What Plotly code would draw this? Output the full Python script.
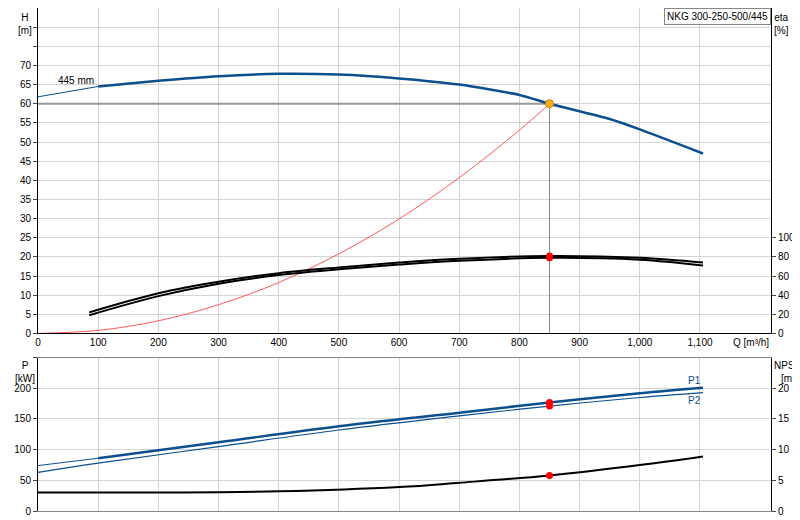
import plotly.graph_objects as go

q_h = [0, 100, 200, 300, 400, 500, 600, 700, 800, 850, 950, 1000, 1105]
h = [61.8, 64.5, 66.0, 67.2, 67.8, 67.6, 66.6, 65.0, 62.3, 60.0, 56.0, 53.3, 47.0]
q_eta = [85, 200, 300, 400, 500, 600, 700, 850, 1000, 1105]
eta1 = [22, 42, 54, 63, 69, 74, 78, 81, 79, 74]
eta2 = [19, 39, 52, 61, 67, 72, 76, 79, 77, 71]
q_sys = [0, 100, 200, 300, 400, 500, 600, 700, 800, 850]
h_sys = [0, 0.8, 3.3, 7.5, 13.3, 20.8, 29.9, 40.7, 53.1, 60.0]
q_p = [0, 100, 300, 500, 700, 850, 1000, 1105]
p1 = [74, 86, 112, 138, 160, 177, 192, 201]
p2 = [63, 78, 105, 132, 155, 171, 185, 193]
q_n = [0, 200, 400, 600, 700, 850, 1000, 1105]
npsh = [3.0, 3.0, 3.2, 3.9, 4.6, 5.8, 7.5, 8.9]
q_ticks = list(range(0, 1200, 100))
q_op = 850
h_op = 60

blue = "#0b4f8f"
fig = go.Figure()
fig.add_trace(go.Scatter(x=q_sys, y=h_sys, mode="lines", line=dict(color="#ff3030", width=0.8, shape="spline"), xaxis="x", yaxis="y"))
fig.add_trace(go.Scatter(x=[0, q_op], y=[h_op, h_op], mode="lines", line=dict(color="#999", width=2), xaxis="x", yaxis="y"))
fig.add_trace(go.Scatter(x=[q_op, q_op], y=[0, h_op], mode="lines", line=dict(color="#888", width=1), xaxis="x", yaxis="y"))
fig.add_trace(go.Scatter(x=q_h[:2], y=h[:2], mode="lines", line=dict(color=blue, width=1), xaxis="x", yaxis="y"))
fig.add_trace(go.Scatter(x=q_h[1:], y=h[1:], mode="lines", line=dict(color=blue, width=2.5, shape="spline", smoothing=0.6), xaxis="x", yaxis="y"))
for e in (eta1, eta2):
    fig.add_trace(go.Scatter(x=q_eta, y=e, mode="lines", line=dict(color="black", width=2, shape="spline"), xaxis="x", yaxis="y2"))
fig.add_trace(go.Scatter(x=[q_op, q_op], y=[eta1[7], eta2[7]], mode="markers", marker=dict(color="red", size=7), xaxis="x", yaxis="y2"))
fig.add_trace(go.Scatter(x=[q_op], y=[h_op], mode="markers", marker=dict(color="#ffb020", size=8, line=dict(color="#d08000", width=1)), xaxis="x", yaxis="y"))
fig.add_trace(go.Scatter(x=q_p[:2], y=p1[:2], mode="lines", line=dict(color=blue, width=1), xaxis="x2", yaxis="y3"))
fig.add_trace(go.Scatter(x=q_p[1:], y=p1[1:], mode="lines", line=dict(color=blue, width=2.5, shape="spline"), xaxis="x2", yaxis="y3"))
fig.add_trace(go.Scatter(x=q_p, y=p2, mode="lines", line=dict(color=blue, width=1.2, shape="spline"), xaxis="x2", yaxis="y3"))
fig.add_trace(go.Scatter(x=[q_op, q_op], y=[p1[5], p2[5]], mode="markers", marker=dict(color="red", size=7), xaxis="x2", yaxis="y3"))
fig.add_trace(go.Scatter(x=q_n, y=npsh, mode="lines", line=dict(color="black", width=2, shape="spline"), xaxis="x2", yaxis="y4"))
fig.add_trace(go.Scatter(x=[q_op], y=[npsh[5]], mode="markers", marker=dict(color="red", size=7), xaxis="x2", yaxis="y4"))

grid = "#d4d4d4"
hv = list(range(0, 85, 5))
ht = [str(v) if v <= 70 else "" for v in hv]
fig.update_layout(
    width=800, height=520, showlegend=False, plot_bgcolor="white", paper_bgcolor="white",
    margin=dict(l=30, r=37, t=0, b=17),
    font=dict(family="Liberation Sans, Arial", size=10, color="black"),
    xaxis=dict(range=[0, 1218], tickvals=q_ticks, tickformat=",d", showgrid=True, gridcolor=grid,
               anchor="y", showline=True, linecolor="black", ticks="", zeroline=False, automargin=False),
    xaxis2=dict(range=[0, 1218], tickvals=q_ticks, showticklabels=False, showgrid=True, gridcolor=grid,
                anchor="y3", zeroline=False, showline=True, linecolor="#888", automargin=False, mirror=True),
    yaxis=dict(domain=[0.353, 1], range=[0, 85], tickvals=hv, ticktext=ht, showgrid=True, gridcolor=grid,
               showline=True, linecolor="black", ticks="outside", ticklen=4, zeroline=False, automargin=False),
    yaxis2=dict(overlaying="y", side="right", range=[0, 85 * 4], tickvals=[0, 20, 40, 60, 80, 100],
                showgrid=False, showline=True, linecolor="black", ticks="outside", ticklen=4, zeroline=False, automargin=False),
    yaxis3=dict(domain=[0, 0.305], range=[0, 250], tickvals=[0, 50, 100, 150, 200, 250], ticktext=["0", "50", "100", "150", "200", ""],
                showgrid=True, gridcolor=grid, anchor="x2",
                showline=True, linecolor="black", ticks="outside", ticklen=4, zeroline=False, automargin=False),
    yaxis4=dict(overlaying="y3", side="right", anchor="x2", range=[0, 25], tickvals=[0, 5, 10, 15, 20],
                showgrid=False, showline=True, linecolor="black", ticks="outside", ticklen=4, zeroline=False, automargin=False),
)
ann = [
    dict(x=0.0, y=1.0, xref="paper", yref="paper", text="H<br>[m]", xanchor="right", yanchor="top", xshift=-4, yshift=-2, align="center"),
    dict(x=1.0, y=1.0, xref="paper", yref="paper", text="eta<br>[%]", xanchor="left", yanchor="top", xshift=1, yshift=-2, align="center"),
    dict(x=0.0, y=0.305, xref="paper", yref="paper", text="P<br>[kW]", xanchor="right", yanchor="top", xshift=-1, align="center"),
    dict(x=1.0, y=0.305, xref="paper", yref="paper", text="NPSH<br>[m]", xanchor="left", yanchor="top", xshift=1, align="center"),
    dict(x=1218, y=0, xref="x", yref="y", text="Q [m³/h]", xanchor="right", yanchor="top", yshift=-2),
    dict(x=30, y=h[1] - 0.5, xref="x", yref="y", text="445 mm", xanchor="left", yanchor="bottom"),
    dict(x=1105, y=p1[-1], xref="x2", yref="y3", text="P1", xanchor="right", yanchor="bottom", font=dict(color=blue)),
    dict(x=1105, y=p2[-1], xref="x2", yref="y3", text="P2", xanchor="right", yanchor="top", font=dict(color=blue)),
    dict(x=1.0, y=1.0, xref="paper", yref="paper", text="NKG 300-250-500/445", xanchor="right", yanchor="top",
         bordercolor="#888", borderwidth=1, bgcolor="white", borderpad=2),
]
for a in ann:
    a.setdefault("showarrow", False)
fig.update_layout(annotations=ann)
fig.write_html("out.html")
